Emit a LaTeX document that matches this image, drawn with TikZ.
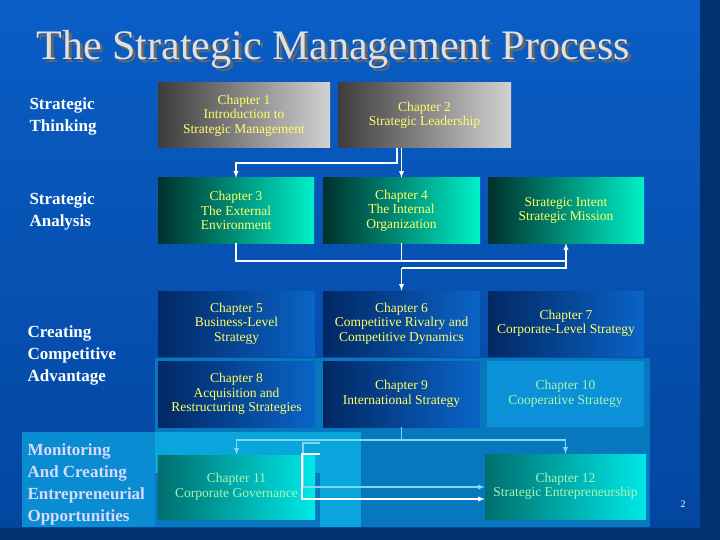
\documentclass[tikz,border=0pt]{standalone}
\usepackage{fontspec}
\setmainfont{Liberation Serif}
\definecolor{bgtop}{HTML}{0A5EC6}
\definecolor{bgbot}{HTML}{0346A0}
\definecolor{outer}{HTML}{033070}
\definecolor{ylw}{HTML}{FFFF66}
\definecolor{grn}{HTML}{A8F8B0}
\definecolor{gL}{RGB}{60,60,60}\definecolor{gR}{RGB}{210,210,210}
\definecolor{tL}{RGB}{0,48,44}\definecolor{tR}{RGB}{0,240,200}
\definecolor{bL}{RGB}{2,40,100}\definecolor{bR}{RGB}{10,100,200}
\definecolor{aL}{RGB}{0,110,110}\definecolor{aR}{RGB}{0,232,232}
\definecolor{pan}{RGB}{8,120,190}
\definecolor{pan2}{RGB}{10,140,210}
\definecolor{pan3}{RGB}{10,165,220}
\definecolor{c10c}{RGB}{10,145,215}
\begin{document}
\begin{tikzpicture}[x=1pt,y=-1pt,
 txt/.style={font=\fontsize{13.5}{14.5}\selectfont,align=center,text=ylw},
 lbl/.style={font=\bfseries\fontsize{17}{22}\selectfont,align=left,anchor=west,text=white},
 gray/.style={left color=gL,right color=gR},
 teal/.style={left color=tL,right color=tR},
 blu/.style={left color=bL,right color=bR},
 aq/.style={left color=aL,right color=aR},
 con/.style={draw=white,line width=1.3pt},
 arr/.style={con,-latex},
 lcon/.style={draw=cyan!50!white,line width=1.3pt}]
\useasboundingbox (0,0) rectangle (720,540);
\fill[outer] (0,0) rectangle (720,540);
\shade[top color=bgtop,bottom color=bgbot] (0,0) rectangle (700,527);
\fill[pan] (155,358) rectangle (650,527);
\fill[pan2] (22,432) rectangle (155,527);
\fill[pan3] (155,432) rectangle (361,473);
\fill[pan3] (320,432) rectangle (361,527);
\node[font=\fontsize{42}{44}\selectfont,text=black!60,anchor=west] at (36,52) {The Strategic Management Process};
\node[font=\fontsize{42}{44}\selectfont,text=black!12,anchor=west] (title) at (33,49) {The Strategic Management Process};
% left labels
\node[lbl] (l1) at (26,116) {Strategic\\Thinking};
\node[lbl] (l2) at (26,211) {Strategic\\Analysis};
\node[lbl] (l3) at (24,355) {Creating\\Competitive\\Advantage};
\node[lbl,text=blue!15!white] (l4) at (24,484) {Monitoring\\And Creating\\Entrepreneurial\\Opportunities};
% row 1
\node[gray,minimum width=172,minimum height=65,txt] (c1) at (244,115.5) {Chapter 1\\Introduction to\\Strategic Management};
\node[gray,minimum width=173,minimum height=65,txt] (c2) at (424.5,115.5) {Chapter 2\\Strategic Leadership};
% row 2
\node[teal,minimum width=156,minimum height=65,txt] (c3) at (236,210.5) {Chapter 3\\The External\\Environment};
\node[teal,minimum width=157,minimum height=65,txt] (c4) at (401.5,210.5) {Chapter 4\\The Internal\\Organization};
\node[teal,minimum width=156,minimum height=65,txt] (si) at (566,210.5) {Strategic Intent\\Strategic Mission};
% row 3
\node[blu,minimum width=157,minimum height=65,txt] (c5) at (236.5,323.5) {Chapter 5\\Business-Level\\Strategy};
\node[blu,minimum width=157,minimum height=65,txt] (c6) at (401.5,323.5) {Chapter 6\\Competitive Rivalry and\\Competitive Dynamics};
\node[blu,minimum width=156,minimum height=65,txt] (c7) at (566,323.5) {Chapter 7\\Corporate-Level Strategy};
% row 4
\node[blu,minimum width=157,minimum height=66,txt] (c8) at (236.5,394) {Chapter 8\\Acquisition and\\Restructuring Strategies};
\node[blu,minimum width=157,minimum height=66,txt] (c9) at (401.5,394) {Chapter 9\\International Strategy};
\node[fill=c10c,minimum width=157,minimum height=66,txt,text=grn] (c10) at (565.5,394) {Chapter 10\\Cooperative Strategy};
% row 5
\node[aq,minimum width=157,minimum height=64,txt,text=grn] (c11) at (236.5,487) {Chapter 11\\Corporate Governance};
\node[aq,minimum width=161,minimum height=65,txt,text=grn] (c12) at (565.5,486.5) {Chapter 12\\Strategic Entrepreneurship};
\node[text=white,font=\fontsize{10}{10}\selectfont] (pg) at (683,504) {2};
% connectors row1->row2
\coordinate (a1) at (397,148);
\coordinate (a2) at (397,163);
\draw[arr] (a1) -- (a2) -| (c3.north);
\draw[arr] (c2.south -| c4.north) -- (c4.north);
% row2->row3
\coordinate (j1) at (236,261);
\coordinate (j2) at (566,261);
\coordinate (j3) at (401.5,268);
\coordinate (j4) at (566,268);
\draw[con] (c3.south) -- (j1) -- (j2);
\draw[con] (c4.south) -- (c4.south |- j1);
\draw[arr] (j3) -- (j4) -- (si.south);
\draw[arr] (j3) -- (c6.north);
% row4->row5
\coordinate (k1) at (401.5,440);
\draw[lcon] (c9.south) -- (k1);
\draw[lcon,-latex] (k1) -| (c11.north);
\draw[lcon,-latex] (k1) -| (c12.north);
\coordinate (m1) at (320,443);
\coordinate (m2) at (303,443);
\coordinate (m3) at (320,454);
\coordinate (m4) at (302,454);
\draw[lcon,-latex] (m1) -- (m2) |- (c12.west |- 0,487);
\draw[con,-latex] (m3) -- (m4) |- (c12.west |- 0,499);
\end{tikzpicture}
\end{document}
